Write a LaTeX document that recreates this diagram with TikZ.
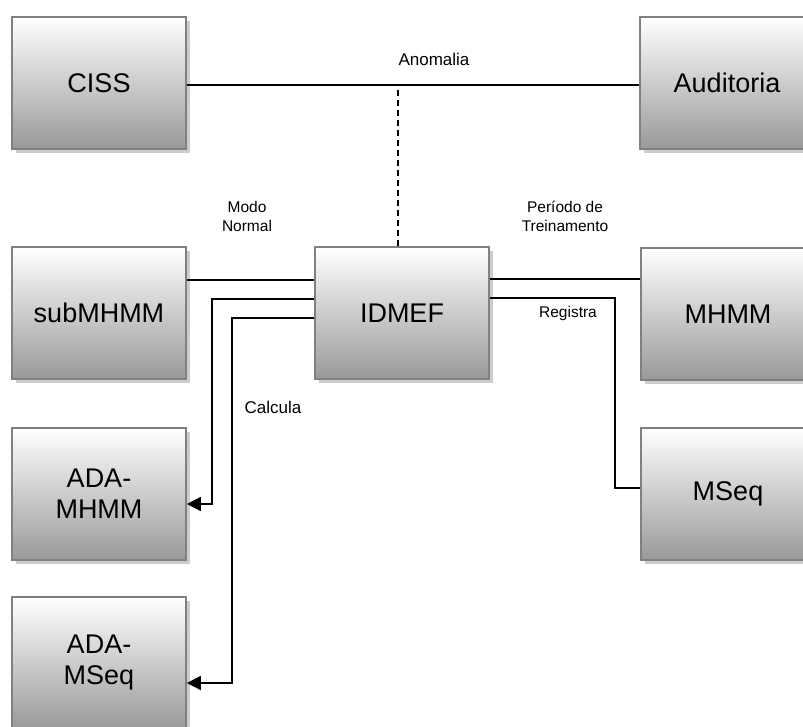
\documentclass[tikz,border=0pt]{standalone}
\usepackage{fontspec}
\setmainfont{Liberation Sans}
\usetikzlibrary{arrows.meta,shadows}
\begin{document}
\begin{tikzpicture}[x=1pt,y=-1pt,
    box/.style={draw=black!50, line width=1.6pt, top color=white, bottom color=black!40,
        minimum width=174pt, minimum height=132pt, align=center,
        font=\fontsize{27}{31}\selectfont,
        drop shadow={shadow xshift=4pt, shadow yshift=-4pt, fill=black!20, opacity=1}},
    lbl/.style={align=center, font=\fontsize{17}{20}\selectfont},
    slbl/.style={align=center, font=\fontsize{15.5}{19}\selectfont},
    wire/.style={line width=1.4pt},
    arr/.style={wire, -{Triangle[length=14pt,width=14pt]}}]
    \useasboundingbox (0,0) rectangle (803,726);
    % Blocks
    \node[box] (CISS) at (99,83) {CISS};
    \node[box] (Auditoria) at (727,83) {Auditoria};
    \node[box] (subMHMM) at (99,313) {subMHMM};
    \node[box] (IDMEF) at (402,313) {IDMEF};
    \node[box] (MHMM) at (728,314) {MHMM};
    \node[box] (MSeq) at (728,494) {MSeq};
    \node[box] (ADAMHMM) at (99,494) {ADA-\\MHMM};
    \node[box] (ADAMSeq) at (99,663) {ADA-\\MSeq};

    % Top link
    \draw[wire] (CISS.east |- 0,85) -- (Auditoria.west |- 0,85);
    \draw[wire, dash pattern=on 6pt off 4pt] (IDMEF.north -| 398,0) -- (398,85);
    \node[lbl] (anom) at (434,59) {Anomalia};

    % Left links
    \draw[wire] (subMHMM.east |- 0,280) -- (IDMEF.west |- 0,280);
    \draw[arr] (IDMEF.west |- 0,299) -- (212,299) |- (ADAMHMM.east |- 0,504);
    \draw[arr] (IDMEF.west |- 0,318) -- (232,318) |- (ADAMSeq.east |- 0,683);
    \node[slbl] (modo) at (247,216) {Modo\\Normal};
    \node[lbl] (calc) at (273,407) {Calcula};

    % Right links
    \draw[wire] (IDMEF.east |- 0,279) -- (MHMM.west |- 0,279);
    \draw[wire] (IDMEF.east |- 0,298) -- (615,298) |- (MSeq.west |- 0,488);
    \node[slbl] (treino) at (565,216) {Período de\\Treinamento};
    \node[slbl] (reg) at (568,313) {Registra};
\end{tikzpicture}
\end{document}
